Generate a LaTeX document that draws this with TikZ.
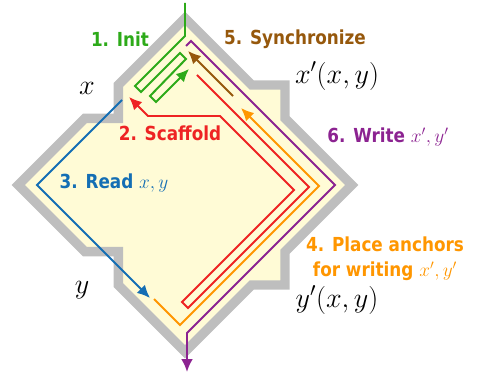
\documentclass[tikz,border=0pt]{standalone}
\usepackage{fix-cm}
\usepackage[no-math]{fontspec}
\newfontfamily\lblfont[FakeStretch=0.87]{DejaVu Sans}
\usetikzlibrary{arrows.meta}
\definecolor{cream}{RGB}{255,251,214}
\definecolor{rimgray}{RGB}{190,190,190}
\definecolor{initgreen}{RGB}{45,170,25}
\definecolor{scafred}{RGB}{238,35,35}
\definecolor{readblue}{RGB}{20,110,180}
\definecolor{anchororange}{RGB}{255,150,0}
\definecolor{syncbrown}{RGB}{150,88,12}
\definecolor{writepurple}{RGB}{140,35,145}

\begin{document}
\begin{tikzpicture}[x=0.03cm,y=-0.03cm,
  lbl/.style={font=\lblfont\bfseries\fontsize{16.5}{21}\selectfont,inner sep=0pt,align=center},
  mlbl/.style={font=\fontsize{24}{28}\selectfont,inner sep=0pt},
  route/.style={line width=1.7pt,line join=miter},
  tip/.style={-{Latex[length=11pt,width=10pt]}}]
\useasboundingbox (0,0) rectangle (480,375);
\begin{scope}[shift={(185,185)},xscale=33.33,yscale=-33.33]
\filldraw[fill=cream,draw=rimgray,line width=8pt,line join=miter] (0,5) -- (2,3) -- (3,3) -- (3,2) -- (5,0) -- (3,-2) -- (3,-3) -- (2,-3) -- (0,-5) -- (-2,-3) -- (-2,-2) -- (-3,-2) -- (-5,0) -- (-3,2) -- (-2,2) -- (-2,3) -- cycle;
\end{scope}
\draw[route,initgreen,tip] plot coordinates {(185,3) (185,36) (135,86) (141,92) (180,53) (186,59) (150,96) (156,102) (189,69)};
\draw[route,syncbrown,tip] plot coordinates {(233,96) (188,51)};
\draw[route,writepurple,tip] plot coordinates {(186,46) (191,41) (335,185) (187,333) (187,372)};
\draw[route,anchororange,tip] plot coordinates {(154,299) (180,325) (319,186) (241,108)};
\draw[route,scafred,tip] plot coordinates {(197,75) (309,187) (188,308) (182,302) (294,190) (220,116) (148,116) (129,97)};
\draw[route,readblue,tip] plot coordinates {(122,100) (37,185) (150,298)};
\node[lbl,text=initgreen] (init) at (120,39) {1. Init};
\node[lbl,text=syncbrown] (sync) at (295,39) {5. Synchronize};
\node[lbl,text=scafred] (scaffold) at (170,133) {2. Scaffold};
\node[lbl,text=writepurple] (write) at (388,137) {6. Write $x',y'$};
\node[lbl,text=readblue] (read) at (114,183) {3. Read $x,y$};
\node[lbl,text=anchororange] (place) at (385,259) {4. Place anchors\\for writing $x',y'$};
\node[mlbl] (inx) at (87,88) {$x$};
\node[mlbl] (iny) at (82,290) {$y$};
\node[mlbl] (outx) at (337,76) {$x'(x,y)$};
\node[mlbl] (outy) at (337,300) {$y'(x,y)$};
\end{tikzpicture}
\end{document}
